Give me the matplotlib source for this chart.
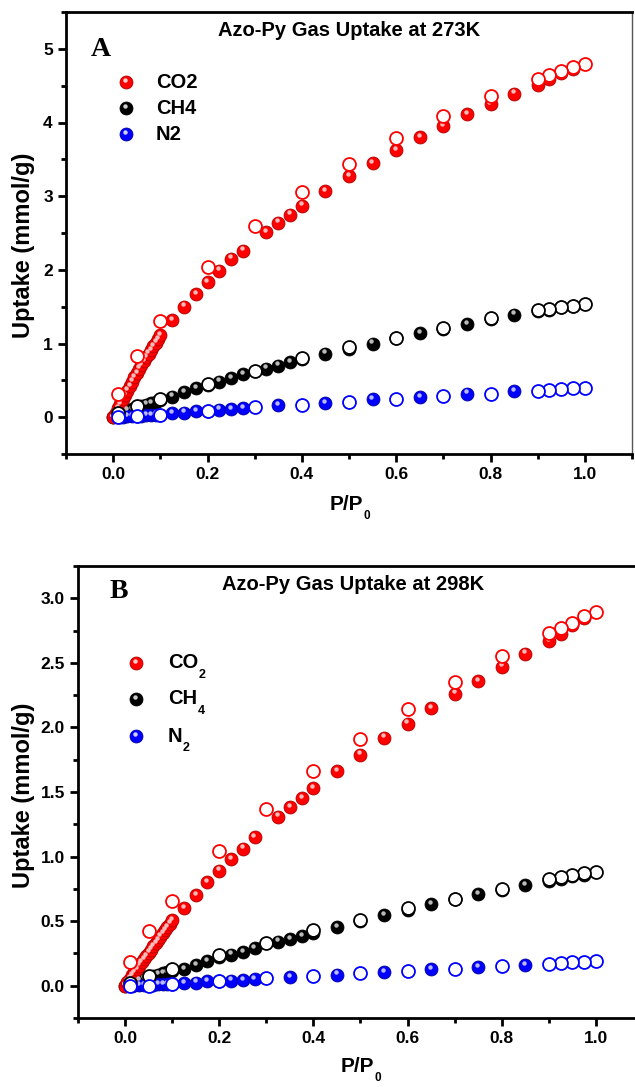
import matplotlib
matplotlib.use("Agg")
import matplotlib.pyplot as plt
from matplotlib.ticker import MultipleLocator, FormatStrFormatter
from matplotlib.transforms import offset_copy

# ---------------- data: Panel A (273 K) ----------------
a_co2_ads_x = [0, .005, .01, .015, .02, .025, .03, .035, .04, .045, .05, .055, .06, .065, .07, .075, .08, .085, .09, .095, .10,
               .125, .15, .175, .20, .225, .25, .275, .325, .35, .375, .40, .45, .50, .55, .60, .65, .70, .75, .80, .85,
               .90, .925, .95, .975]
a_co2_ads_y = [0, .06, .12, .18, .24, .30, .36, .42, .48, .54, .60, .66, .71, .76, .81, .86, .91, .96, 1.01, 1.06, 1.11,
               1.32, 1.50, 1.67, 1.83, 1.99, 2.15, 2.26, 2.51, 2.64, 2.75, 2.87, 3.07, 3.27, 3.45, 3.62, 3.80, 3.95, 4.11,
               4.25, 4.39, 4.51, 4.59, 4.67, 4.73]
des_x = [1.0, .975, .95, .925, .90, .80, .70, .60, .50, .40, .30, .20, .10, .05, .01]
a_co2_des_y = [4.79, 4.75, 4.70, 4.65, 4.59, 4.36, 4.09, 3.79, 3.44, 3.05, 2.59, 2.04, 1.30, 0.83, 0.32]

ch4_ads_x = [0, .01, .02, .03, .04, .05, .06, .07, .08, .09, .10, .125, .15, .175, .20, .225, .25, .275,
             .325, .35, .375, .40, .45, .50, .55, .60, .65, .70, .75, .80, .85, .90, .925, .95, .975]
a_ch4_ads_y = [0, .04, .07, .09, .11, .13, .15, .17, .19, .21, .23, .28, .34, .39, .44, .48, .53, .58,
               .66, .70, .75, .79, .86, .93, 1.00, 1.07, 1.14, 1.20, 1.26, 1.33, 1.39, 1.44, 1.46, 1.49, 1.51]
a_ch4_des_y = [1.53, 1.51, 1.49, 1.47, 1.45, 1.34, 1.21, 1.08, .95, .80, .63, .45, .25, .15, .05]

n2_ads_x = [.015, .02, .03, .04, .05, .06, .07, .08, .09, .10, .125, .15, .175, .20, .225, .25, .275,
            .35, .45, .55, .65, .75, .85]
a_n2_ads_y = [0, .005, .01, .014, .018, .022, .026, .03, .033, .036, .055, .06, .077, .085, .10, .11, .12,
              .16, .19, .24, .27, .32, .355]
a_n2_des_y = [.40, .39, .38, .37, .36, .32, .29, .25, .21, .17, .136, .082, .036, .02, 0.0]

# ---------------- data: Panel B (298 K) ----------------
b_co2_ads_x = a_co2_ads_x
b_co2_ads_y = [0, .03, .055, .08, .105, .13, .155, .18, .205, .23, .255, .28, .305, .33, .355, .38, .405, .43, .455, .48, .505,
               .60, .70, .80, .89, .98, 1.06, 1.15, 1.31, 1.38, 1.45, 1.53, 1.66, 1.79, 1.92, 2.03, 2.15, 2.26, 2.36,
               2.47, 2.57, 2.67, 2.72, 2.79, 2.85]
b_co2_des_y = [2.89, 2.86, 2.81, 2.77, 2.73, 2.55, 2.35, 2.14, 1.91, 1.66, 1.37, 1.04, .655, .42, .18]
b_ch4_ads_y = [0, .02, .035, .045, .055, .065, .075, .085, .095, .105, .115, .13, .16, .19, .22, .24, .26, .29,
               .34, .36, .385, .41, .455, .50, .545, .59, .63, .67, .71, .74, .78, .81, .83, .85, .86]
b_ch4_des_y = [.88, .87, .855, .84, .825, .75, .675, .60, .51, .43, .33, .24, .13, .078, .02]
b_n2_ads_y = [0, .002, .004, .006, .008, .009, .01, .011, .012, .013, .02, .023, .034, .036, .04, .045, .052,
              .065, .085, .106, .127, .145, .16]
b_n2_des_y = [.19, .187, .181, .176, .17, .153, .132, .114, .096, .078, .06, .04, .013, 0.0, -.005]

legend_a = [("CO2", "CO2", ""), ("CH4", "CH4", ""), ("N2", "N2", "")]
legend_b = [("CO2", "CO", "2"), ("CH4", "CH", "4"), ("N2", "N", "2")]

gas_colors = {"CO2": "#ff0000", "CH4": "#000000", "N2": "#0000ff"}
gas_dark = {"CO2": "#b00000", "CH4": "#000000", "N2": "#0000a0"}
gas_hi = {"CO2": "#ffd0d0", "CH4": "#d0d0d0", "N2": "#d0d0ff"}

W, H = 635, 1087
fig = plt.figure(figsize=(W / 100, H / 100), dpi=100)

SANS = "Liberation Sans"
MS = 9.3


def px_axes(l, t, r, b):
    return [l / W, 1 - b / H, (r - l) / W, (b - t) / H]


def balls(ax, x, y, gas, z=3):
    ax.plot(x, y, ls="none", marker="o", ms=MS, mfc=gas_colors[gas], mec=gas_dark[gas], mew=0.6,
            zorder=z, clip_on=False)
    tr = offset_copy(ax.transData, fig=fig, x=-0.8, y=1.7, units="points")
    ax.plot(x, y, ls="none", marker="o", ms=3.2, mfc=gas_hi[gas], mec="none", alpha=0.9,
            transform=tr, zorder=z + 0.1, clip_on=False)


def rings(ax, x, y, gas, z=4):
    ax.plot(x, y, ls="none", marker="o", ms=MS, mfc="white", mec=gas_colors[gas], mew=1.3,
            zorder=z, clip_on=False)


def style(ax, xlim, ylim, ymaj, ymin_, yfmt):
    ax.set_xlim(*xlim)
    ax.set_ylim(*ylim)
    ax.xaxis.set_major_locator(MultipleLocator(0.2))
    ax.xaxis.set_minor_locator(MultipleLocator(0.1))
    ax.yaxis.set_major_locator(MultipleLocator(ymaj))
    ax.yaxis.set_minor_locator(MultipleLocator(ymin_))
    ax.xaxis.set_major_formatter(FormatStrFormatter("%.1f"))
    ax.yaxis.set_major_formatter(FormatStrFormatter(yfmt))
    for s in ["left", "bottom", "top"]:
        ax.spines[s].set_linewidth(2.0)
    ax.spines["right"].set_linewidth(1.0)
    ax.spines["right"].set_color("#555555")
    ax.tick_params(which="major", direction="out", length=5.5, width=2.0, pad=4)
    ax.tick_params(which="minor", direction="out", length=3.5, width=2.0)
    ax.tick_params(top=False, right=False, which="both")
    for lab in ax.get_xticklabels() + ax.get_yticklabels():
        lab.set_fontfamily(SANS)
        lab.set_fontweight("bold")
        lab.set_fontsize(12.5)


def subscript(ax, txt_artist, s, size):
    ax.annotate(s, xy=(1, 0.18), xycoords=txt_artist, xytext=(0.3, 0), textcoords="offset points",
                ha="left", va="top", fontfamily=SANS, fontweight="bold", fontsize=size)


def legend(ax, entries, x_ball, x_text, ys):
    for (gas, label, sub), yy in zip(entries, ys):
        ax.plot([x_ball], [yy], ls="none", marker="o", ms=MS, mfc=gas_colors[gas], mec=gas_dark[gas], mew=0.6,
                transform=ax.transAxes, clip_on=False, zorder=5)
        tr = offset_copy(ax.transAxes, fig=fig, x=-0.8, y=1.7, units="points")
        ax.plot([x_ball], [yy], ls="none", marker="o", ms=3.2, mfc=gas_hi[gas], mec="none",
                transform=tr, clip_on=False, zorder=5.1)
        t = ax.text(x_text, yy, label, transform=ax.transAxes, ha="left", va="center",
                    fontfamily=SANS, fontweight="bold", fontsize=14.5)
        if sub:
            subscript(ax, t, sub, 9)


def fa(px, l, r):
    return (px - l) / (r - l)


def fy(py, t, b):
    return (b - py) / (b - t)


def xlabel(ax, xpx, ypx):
    t = fig.text(xpx / W, 1 - ypx / H, "P/P", ha="center", va="center",
                 fontfamily=SANS, fontweight="bold", fontsize=15)
    ax.annotate("0", xy=(1, 0.22), xycoords=t, xytext=(0.5, 0), textcoords="offset points",
                ha="left", va="top", fontfamily=SANS, fontweight="bold", fontsize=8.5)


# ---------------- Panel A ----------------
A_l, A_t, A_r, A_b = 66, 12, 632, 454
axA = fig.add_axes(px_axes(A_l, A_t, A_r, A_b))
balls(axA, ch4_ads_x, a_ch4_ads_y, "CH4")
balls(axA, n2_ads_x, a_n2_ads_y, "N2")
balls(axA, a_co2_ads_x, a_co2_ads_y, "CO2")
rings(axA, des_x, a_ch4_des_y, "CH4")
rings(axA, des_x, a_n2_des_y, "N2")
rings(axA, des_x, a_co2_des_y, "CO2")
style(axA, (-0.1, 1.1), (-0.5, 5.5), 1, 0.5, "%d")

axA.text(0.5, fy(30, A_t, A_b), "Azo-Py Gas Uptake at 273K", transform=axA.transAxes, ha="center", va="center",
         fontfamily=SANS, fontweight="bold", fontsize=14.5)
axA.text(fa(101, A_l, A_r), fy(50, A_t, A_b), "A", transform=axA.transAxes, ha="center", va="center",
         fontfamily="Liberation Serif", fontweight="bold", fontsize=20)
legend(axA, legend_a, fa(126, A_l, A_r), fa(156, A_l, A_r),
       [fy(82, A_t, A_b), fy(108, A_t, A_b), fy(134, A_t, A_b)])
fig.text(24 / W, 1 - 245 / H, "Uptake (mmol/g)", rotation=90, ha="center", va="center",
         fontfamily=SANS, fontweight="bold", fontsize=17)
xlabel(axA, 346, 505)

# ---------------- Panel B ----------------
B_l, B_t, B_r, B_b = 78, 566, 643, 1018
axB = fig.add_axes(px_axes(B_l, B_t, B_r, B_b))
balls(axB, ch4_ads_x, b_ch4_ads_y, "CH4")
balls(axB, n2_ads_x, b_n2_ads_y, "N2")
balls(axB, b_co2_ads_x, b_co2_ads_y, "CO2")
rings(axB, des_x, b_ch4_des_y, "CH4")
rings(axB, des_x, b_n2_des_y, "N2")
rings(axB, des_x, b_co2_des_y, "CO2")
style(axB, (-0.1, 1.1), (-0.25, 3.25), 0.5, 0.25, "%.1f")

axB.text(fa(353, B_l, B_r), fy(585, B_t, B_b), "Azo-Py Gas Uptake at 298K", transform=axB.transAxes,
         ha="center", va="center", fontfamily=SANS, fontweight="bold", fontsize=14.5)
axB.text(fa(119, B_l, B_r), fy(592, B_t, B_b), "B", transform=axB.transAxes, ha="center", va="center",
         fontfamily="Liberation Serif", fontweight="bold", fontsize=20)
legend(axB, legend_b, fa(136, B_l, B_r), fa(168, B_l, B_r),
       [fy(663, B_t, B_b), fy(699, B_t, B_b), fy(736, B_t, B_b)])
fig.text(24 / W, 1 - 795 / H, "Uptake (mmol/g)", rotation=90, ha="center", va="center",
         fontfamily=SANS, fontweight="bold", fontsize=17)
xlabel(axB, 357, 1067)

fig.savefig("out.png", dpi=100)
